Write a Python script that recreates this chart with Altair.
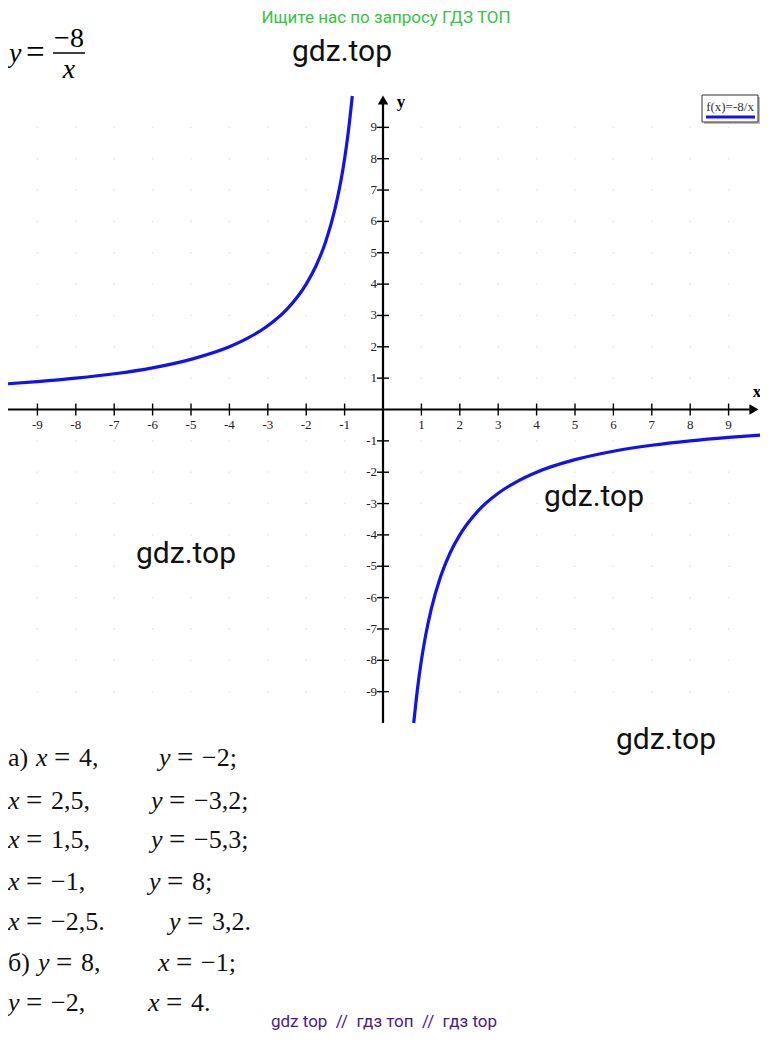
import altair as alt
import pandas as pd

NB = "\u00a0"

# ---- data ----
xs_left = [-10, -9, -8, -7, -6, -5, -4, -3.5, -3, -2.5, -2, -1.75, -1.5, -1.25, -1.1, -1, -0.9, -0.8]
ys_left = [0.8, 0.89, 1, 1.14, 1.33, 1.6, 2, 2.29, 2.67, 3.2, 4, 4.57, 5.33, 6.4, 7.27, 8, 8.89, 10]
xs_right = [0.8, 0.9, 1, 1.1, 1.25, 1.5, 1.75, 2, 2.5, 3, 3.5, 4, 5, 6, 7, 8, 9, 10]
ys_right = [-10, -8.89, -8, -7.27, -6.4, -5.33, -4.57, -4, -3.2, -2.67, -2.29, -2, -1.6, -1.33, -1.14, -1, -0.89, -0.8]

x_ticks = [-9, -8, -7, -6, -5, -4, -3, -2, -1, 1, 2, 3, 4, 5, 6, 7, 8, 9]
y_ticks = [-9, -8, -7, -6, -5, -4, -3, -2, -1, 1, 2, 3, 4, 5, 6, 7, 8, 9]

x_axis_ends = [-10.2, 9.6]
y_axis_ends = [-10, 9.85]
arrow_x = [9.66, 0]
arrow_y = [0, 9.87]
arrow_shape = ["triangle-right", "triangle-up"]

legend_label = "f(x)=-8/x"
header_text = "Ищите нас по запросу ГДЗ ТОП"
footer_text = f"gdz top{NB}{NB}//{NB}{NB}гдз топ{NB}{NB}//{NB}{NB}гдз top"
watermark = "gdz.top"

# answers: (prefix, var1, value1, start1, var2, value2, start2)
answer_rows = [
    ("а)", "x", "4,", 28, "y", "−2;", 151),
    ("", "x", "2,5,", 0, "y", "−3,2;", 143),
    ("", "x", "1,5,", 0, "y", "−5,3;", 143),
    ("", "x", "−1,", 0, "y", "8;", 141),
    ("", "x", "−2,5.", 0, "y", "3,2.", 161),
    ("б)", "y", "8,", 30, "x", "−1;", 150),
    ("", "y", "−2,", 0, "x", "4.", 140),
]
row_y = [750, 793, 832, 874, 914, 955, 995]

# ---- tables ----
curve = pd.DataFrame({
    "x": xs_left + xs_right,
    "y": ys_left + ys_right,
    "branch": ["left"] * len(xs_left) + ["right"] * len(xs_right),
})
xt = pd.DataFrame({"v": x_ticks, "zero": [0] * len(x_ticks), "lab": [str(v) for v in x_ticks]})
yt = pd.DataFrame({"v": y_ticks, "zero": [0] * len(y_ticks), "lab": [str(v) for v in y_ticks]})
grid = pd.DataFrame([{"gx": a, "gy": b} for a in x_ticks for b in y_ticks])
xaxis = pd.DataFrame({"x0": [x_axis_ends[0]], "x1": [x_axis_ends[1]], "zero": [0]})
yaxis = pd.DataFrame({"y0": [y_axis_ends[0]], "y1": [y_axis_ends[1]], "zero": [0]})
arrows = pd.DataFrame({"ax": arrow_x, "ay": arrow_y, "shape": arrow_shape})
one = pd.DataFrame({"k": [0]})

W, H = 752, 1024
xs = alt.Scale(domain=[-9.766, 9.818], nice=False, zero=False)
ys = alt.Scale(domain=[-19.856, 12.807], nice=False, zero=False)
SERIF = "Liberation Serif"
SANS = "Roboto"
BLUE = "#1212ee"

def X(f):
    return alt.X(f, type="quantitative", scale=xs, axis=None)

def Y(f):
    return alt.Y(f, type="quantitative", scale=ys, axis=None)

layers = []

# grid dots
layers.append(alt.Chart(grid).mark_point(filled=True, size=3, color="#e6e6e6", opacity=1)
              .encode(x=X("gx"), y=Y("gy")))

# axes lines
layers.append(alt.Chart(xaxis).mark_rule(color="black", strokeWidth=2.2, clip=True)
              .encode(x=X("x0"), x2=alt.X2("x1"), y=Y("zero")))
layers.append(alt.Chart(yaxis).mark_rule(color="black", strokeWidth=2.2)
              .encode(y=Y("y0"), y2=alt.Y2("y1"), x=X("zero")))
# arrow heads
layers.append(alt.Chart(arrows).mark_point(filled=True, size=110, color="black", opacity=1)
              .encode(x=X("ax"), y=Y("ay"),
                      shape=alt.Shape("shape:N", scale=None, legend=None)))

# ticks
layers.append(alt.Chart(xt).mark_tick(orient="vertical", size=12, thickness=1.4, color="black", opacity=1)
              .encode(x=X("v"), y=Y("zero")))
layers.append(alt.Chart(yt).mark_tick(orient="horizontal", size=12, thickness=1.4, color="black", opacity=1)
              .encode(y=Y("v"), x=X("zero")))
# tick labels
layers.append(alt.Chart(xt).mark_text(font=SERIF, fontSize=13, color="#222", baseline="middle", dy=15)
              .encode(x=X("v"), y=Y("zero"), text=alt.Text("lab:N")))
layers.append(alt.Chart(yt).mark_text(font=SERIF, fontSize=13, color="#222", baseline="middle", align="right", dx=-6)
              .encode(y=Y("v"), x=X("zero"), text=alt.Text("lab:N")))

# curve
layers.append(alt.Chart(curve).mark_line(color=BLUE, strokeWidth=3.2, interpolate="monotone", clip=True)
              .encode(x=X("x"), y=Y("y"), detail=alt.Detail("branch:N")))

def vtext(txt, x, y, **kw):
    return alt.Chart(one).mark_text(text=txt, **kw).encode(x=alt.value(x), y=alt.value(y))

# axis names
layers.append(vtext("x", 749, 384, font=SERIF, fontSize=17, fontWeight="bold", color="black"))
layers.append(vtext("y", 393, 94, font=SERIF, fontSize=17, fontWeight="bold", color="black"))

# legend box
layers.append(alt.Chart(one).mark_rect(fill="#bbbbbb")
              .encode(x=alt.value(696), x2=alt.value(752), y=alt.value(89), y2=alt.value(116)))
layers.append(alt.Chart(one).mark_rect(fill="white", stroke="#333", strokeWidth=1)
              .encode(x=alt.value(694), x2=alt.value(750), y=alt.value(87), y2=alt.value(114)))
layers.append(vtext(legend_label, 722, 99, font=SERIF, fontSize=13, color="#333"))
layers.append(alt.Chart(one).mark_rule(color=BLUE, strokeWidth=3)
              .encode(x=alt.value(698), x2=alt.value(747), y=alt.value(109)))

# header / footer
layers.append(vtext(header_text, 378, 2, font=SANS, fontSize=17, color="#35c443", baseline="top"))
layers.append(vtext(footer_text, 376, 1014, font=SANS, fontSize=17, color="#4a1a8a"))

# watermarks
for wx, wy in [(334, 44), (586, 489), (178, 546), (658, 732)]:
    layers.append(vtext(watermark, wx, wy, font=SANS, fontSize=30, color="#111"))

# formula y = -8/x
layers.append(vtext("y", 1, 46, font=SERIF, fontSize=28, fontStyle="italic", align="left", color="black"))
layers.append(vtext("=", 18, 45, font=SERIF, fontSize=33, align="left", color="black"))
layers.append(alt.Chart(one).mark_rule(color="black", strokeWidth=1.5)
              .encode(x=alt.value(45), x2=alt.value(77), y=alt.value(45)))
layers.append(vtext("−8", 61, 31, font=SERIF, fontSize=28, color="black"))
layers.append(vtext("x", 61, 62, font=SERIF, fontSize=28, fontStyle="italic", color="black"))

# answers
base = dict(font=SERIF, align="left", baseline="middle", color="#111")
def equation(var, val, x0, yy):
    return [
        vtext(var, x0, yy, fontSize=26, fontStyle="italic", **base),
        vtext("=", x0 + 18, yy, fontSize=29, **base),
        vtext(val, x0 + 43, yy, fontSize=26, **base),
    ]

for (pre, v1, val1, s1, v2, val2, s2), yy in zip(answer_rows, row_y):
    if pre:
        layers.append(vtext(pre, 0, yy, fontSize=26, **base))
    layers += equation(v1, val1, s1, yy)
    layers += equation(v2, val2, s2, yy)

chart = alt.layer(*layers).properties(
    width=W, height=H, padding=0, background="white",
    autosize=alt.AutoSizeParams(type="none"),
).configure_view(stroke=None)

chart.save("out.html", embed_options={"renderer": "svg", "actions": False})
